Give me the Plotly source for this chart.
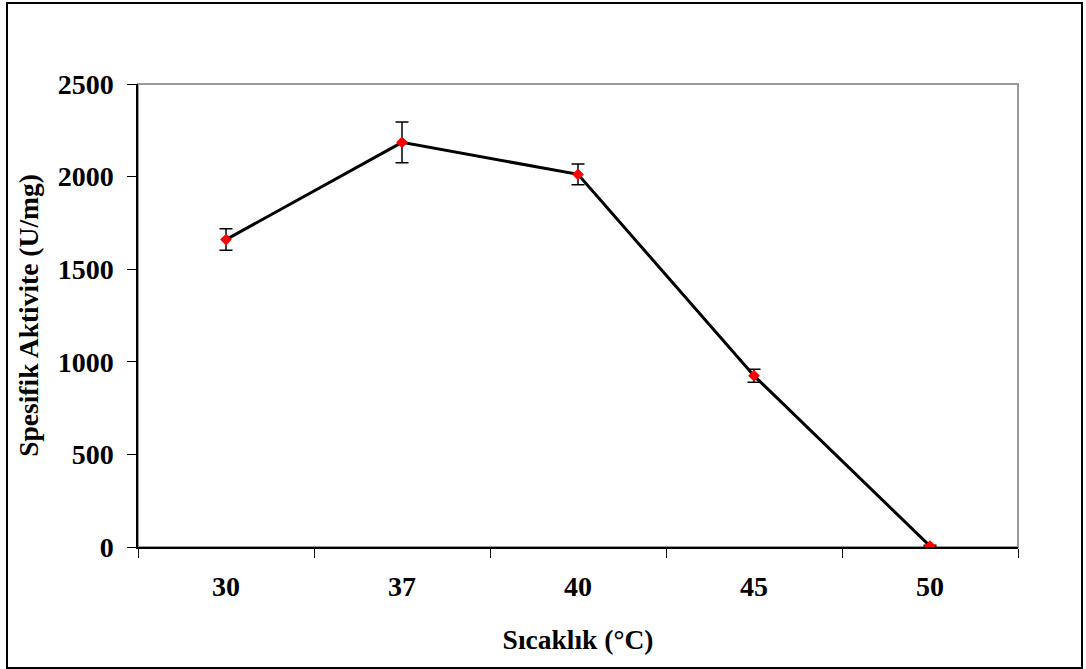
import plotly.graph_objects as go

# Temperature categories and measured specific activity
temperatures = ["30", "37", "40", "45", "50"]
activity = [1660, 2185, 2012, 925, 5]
activity_err = [58, 110, 56, 35, 5]

y_ticks = [0, 500, 1000, 1500, 2000, 2500]

FONT = "Liberation Serif, Times New Roman, serif"

fig = go.Figure()
fig.add_trace(go.Scatter(
    x=temperatures,
    y=activity,
    mode="lines+markers",
    line=dict(color="black", width=3),
    marker=dict(symbol="diamond", color="red", size=9),
    error_y=dict(type="data", array=activity_err, visible=True,
                 color="black", thickness=1.5, width=6.5),
    showlegend=False,
))

W, H = 1086, 669
L, R, T, B = 138, 68, 84, 122
pw, ph = W - L - R, H - T - B

def px_x(v):
    return (v - L) / pw

def px_y(v):
    return (H - B - v) / ph

# gray frame around the plotting area
fig.add_shape(type="rect", xref="paper", yref="paper", x0=0, x1=1, y0=0, y1=1,
              line=dict(color="#9a9a9a", width=2), layer="below")
# outer chart border
fig.add_shape(type="rect", xref="paper", yref="paper",
              x0=px_x(7), x1=px_x(1082), y0=px_y(668), y1=px_y(3),
              line=dict(color="black", width=2))

fig.update_layout(
    width=W, height=H,
    margin=dict(l=L, r=R, t=T, b=B),
    paper_bgcolor="white", plot_bgcolor="white",
    font=dict(family=FONT, size=28, color="black"),
    xaxis=dict(
        type="category",
        categoryorder="array", categoryarray=temperatures,
        range=[-0.5, len(temperatures) - 0.5],
        tickson="boundaries",
        ticks="outside", ticklen=9, tickwidth=1, tickcolor="black",
        showline=True, linecolor="black", linewidth=1.5,
        showgrid=False, zeroline=False,
        tickfont=dict(family=FONT, size=28, color="black", weight="bold"),
        ticklabelstandoff=14,
        title=dict(text="<b>Sıcaklık (°C)</b>", font=dict(family=FONT, size=27.5),
                   standoff=28),
    ),
    yaxis=dict(
        range=[0, 2500],
        tickvals=y_ticks, ticktext=[str(v) for v in y_ticks],
        ticks="outside", ticklen=9, tickwidth=1, tickcolor="black",
        showline=True, linecolor="black", linewidth=1.5,
        showgrid=False, zeroline=False,
        tickfont=dict(family=FONT, size=28, color="black", weight="bold"),
        ticklabelstandoff=8,
        title=dict(text="<b>Spesifik Aktivite (U/mg)</b>", font=dict(family=FONT, size=27.5),
                   standoff=11),
    ),
)

fig.write_html("out.html")
